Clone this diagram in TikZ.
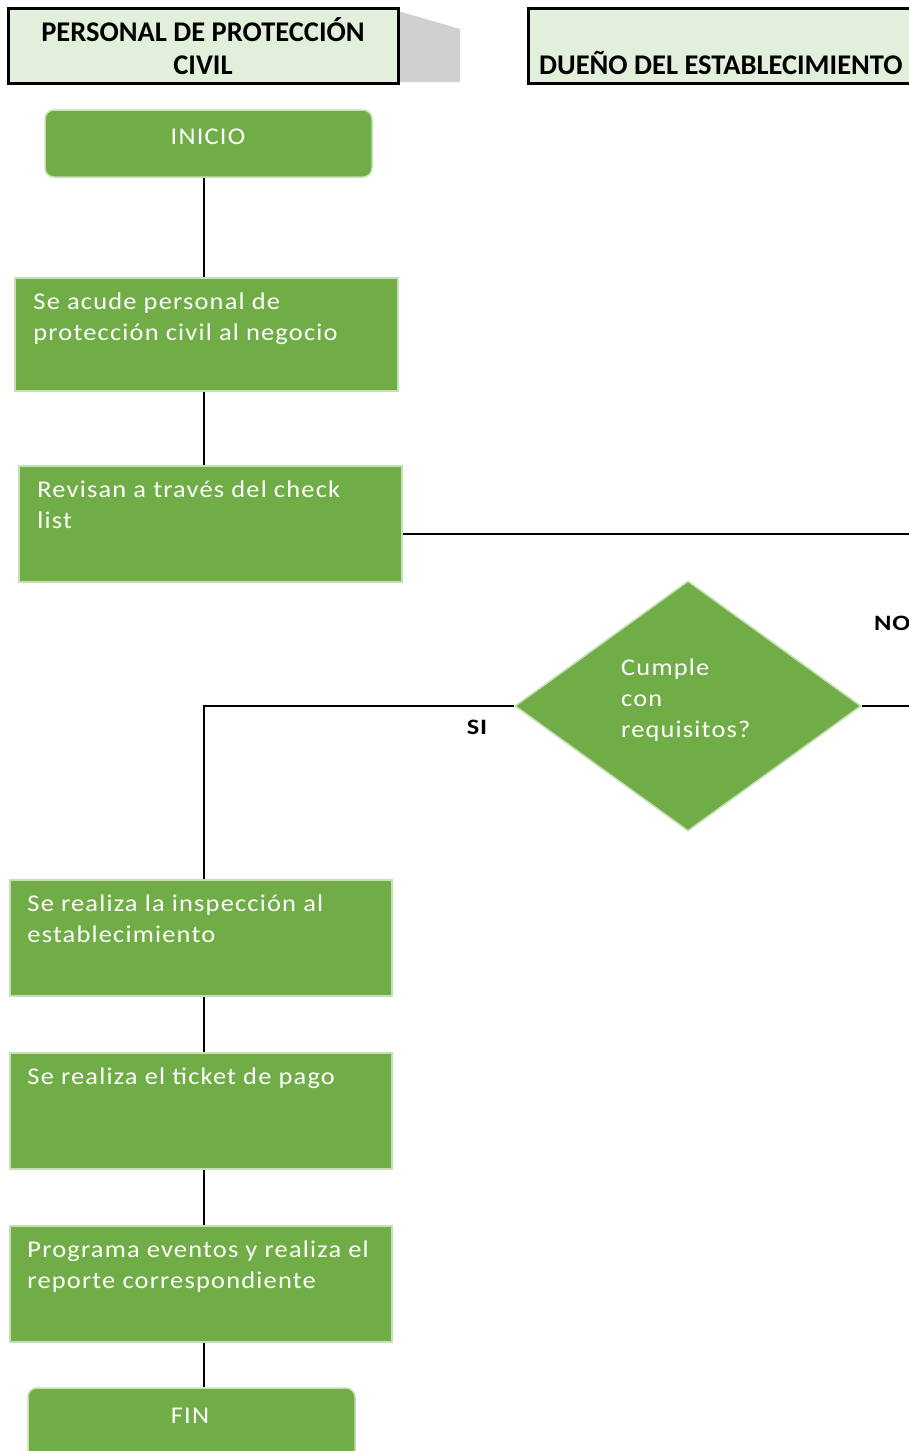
\documentclass[tikz,border=0pt]{standalone}
\usepackage{fontspec}
\setmainfont{Carlito}
\newfontfamily\bodyfont[FakeStretch=1.1,LetterSpace=5]{Carlito}
\newfontfamily\lblfont[FakeStretch=1.2,LetterSpace=3]{Carlito}
\usetikzlibrary{shapes.geometric}
\definecolor{boxgreen}{HTML}{70AD47}
\definecolor{boxline}{HTML}{C5E0B4}
\definecolor{headfill}{HTML}{E2EFDA}
\definecolor{tabgray}{HTML}{D0D0D0}
\begin{document}
\begin{tikzpicture}[x=1pt,y=-1pt,
 proc/.style={draw=boxline, line width=1.5pt, fill=boxgreen, inner sep=0pt},
 term/.style={proc, rounded corners=9pt},
 txt/.style={text=white, font=\bodyfont\fontsize{24}{31}\selectfont, align=left, inner sep=0pt, anchor=north west},
 ctxt/.style={text=white, font=\bodyfont\fontsize{24}{31}\selectfont, inner sep=0pt},
 conn/.style={line width=1.5pt, black},
 head/.style={draw=black, line width=3pt, fill=headfill, inner sep=0pt},
 htxt/.style={font=\bfseries\fontsize{28.5}{33}\selectfont, align=center, inner sep=0pt},
 lbl/.style={font=\lblfont\bfseries\fontsize{22}{24}\selectfont, inner sep=0pt}]
\useasboundingbox (0,0) rectangle (909,1451);
\clip (0,0) rectangle (909,1451);
% headers
\fill[tabgray] (398,11) -- (460,29) -- (460,82) -- (398,82) -- cycle;
\node[head, minimum width=390pt, minimum height=75pt] (h1) at (203,45.5) {};
\node[htxt] (h1t) at (203,46) {PERSONAL DE PROTECCIÓN\\CIVIL};
\node[head, minimum width=420pt, minimum height=75pt] (h2) at (738,45.5) {};
\node[htxt, anchor=west] (h2t) at (539,63) {DUEÑO DEL ESTABLECIMIENTO};
% nodes
\node[term, minimum width=327pt, minimum height=67pt] (ini) at (208.5,143.5) {};
\node[ctxt] at (208,137) {INICIO};
\node[proc, minimum width=383pt, minimum height=113pt] (b1) at (206.5,334.5) {};
\node[txt] at ([shift={(19,15)}]b1.north west) {Se acude personal de\\protección civil al negocio};
\node[proc, minimum width=383pt, minimum height=116pt] (b2) at (210.5,524) {};
\node[txt] at ([shift={(19,15)}]b2.north west) {Revisan a través del check\\list};
\node[diamond, draw=boxline, line width=1.5pt, fill=boxgreen, inner sep=0pt, minimum width=346pt, minimum height=250pt] (d) at (688,706) {};
\node[txt] at (621,659) {Cumple\\con\\requisitos?};
\node[proc, minimum width=382pt, minimum height=116pt] (b3) at (201,938) {};
\node[txt] at ([shift={(18,15)}]b3.north west) {Se realiza la inspección al\\establecimiento};
\node[proc, minimum width=382pt, minimum height=116pt] (b4) at (201,1111) {};
\node[txt] at ([shift={(18,15)}]b4.north west) {Se realiza el ticket de pago};
\node[proc, minimum width=382pt, minimum height=116pt] (b5) at (201,1284) {};
\node[txt] at ([shift={(18,15)}]b5.north west) {Programa eventos y realiza el\\reporte correspondiente};
\node[term, minimum width=327pt, minimum height=90pt] (fin) at (191.5,1433) {};
\node[ctxt] at (190,1416) {FIN};
% connectors
\coordinate (e1) at (915,534);
\coordinate (k) at (204,706);
\draw[conn] (ini.south -| 204,0) -- (b1.north -| 204,0);
\draw[conn] (b1.south -| 204,0) -- (b2.north -| 204,0);
\draw[conn] (b2.east |- e1) -- (e1);
\draw[conn] (d.east) -- ++(60,0);
\draw[conn] (d.west) -- (k) -- (b3.north -| k);
\draw[conn] (b3.south -| 204,0) -- (b4.north -| 204,0);
\draw[conn] (b4.south -| 204,0) -- (b5.north -| 204,0);
\draw[conn] (b5.south -| 204,0) -- (fin.north -| 204,0);
\node[lbl] at (477,727) {SI};
\node[lbl, anchor=west] at (874,623) {NO};
\end{tikzpicture}
\end{document}
